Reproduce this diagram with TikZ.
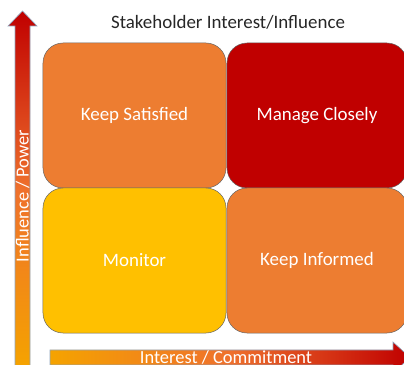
\documentclass[tikz,border=0pt]{standalone}
\usepackage{fontspec}
\setmainfont{Carlito}
\usetikzlibrary{positioning}
\definecolor{stkorange}{HTML}{ED7D31}
\definecolor{stkred}{HTML}{C00000}
\definecolor{stkyellow}{HTML}{FFC000}
\definecolor{stkamber}{HTML}{F5A300}
\definecolor{stkedge}{HTML}{8FA5BD}
\tikzset{
  quad/.style={draw=gray!80!black, line width=0.5bp, rounded corners=20bp,
    minimum width=183bp, minimum height=145bp, text=white,
    font=\fontsize{19}{22}\selectfont},
  axislabel/.style={text=white, font=\fontsize{18.5}{22}\selectfont, inner sep=0pt}
}
\begin{document}
\begin{tikzpicture}[x=1bp,y=1bp]
      \useasboundingbox (0,0) rectangle (404,365);
      \begin{scope}
      \clip (0,0) rectangle (404,365);
      % axes
      \shadedraw [draw=stkedge, line width=0.6bp, bottom color=stkamber, top color=stkred, middle color=stkorange!90!red]
        (15,-2) -- (15,339) -- (8,339) -- (22.5,354) -- (37,339) -- (30,339) -- (30,-2) -- cycle;
      \shadedraw [draw=stkedge, line width=0.6bp, left color=stkamber, right color=stkred, middle color=stkorange!90!red]
        (50,0) -- (50,15) -- (393,15) -- (393,23) -- (410,7.5) -- (393,-8) -- (393,0) -- cycle;
      \end{scope}
      \node [font=\fontsize{19}{22}\selectfont, text=black!85] (title) at (228,343) {Stakeholder Interest/Influence};
      \node [axislabel, rotate=90] (power) at (22.5,169) {Influence / Power};
      \node [axislabel] (interest) at (226,8) {Interest / Commitment};
      % grid
      \node [quad, fill=stkorange] (satisfied) at (134.5,249.5) {Keep Satisfied};
      \node [quad, fill=stkred, minimum width=180bp] (closely) at (317,249.5) {Manage Closely};
      \node [quad, fill=stkyellow] (monitor) at (134.5,104.5) {Monitor};
      \node [quad, fill=stkorange, minimum width=180bp] (informed) at (317,104.5) {Keep Informed};
    \end{tikzpicture}
\end{document}
